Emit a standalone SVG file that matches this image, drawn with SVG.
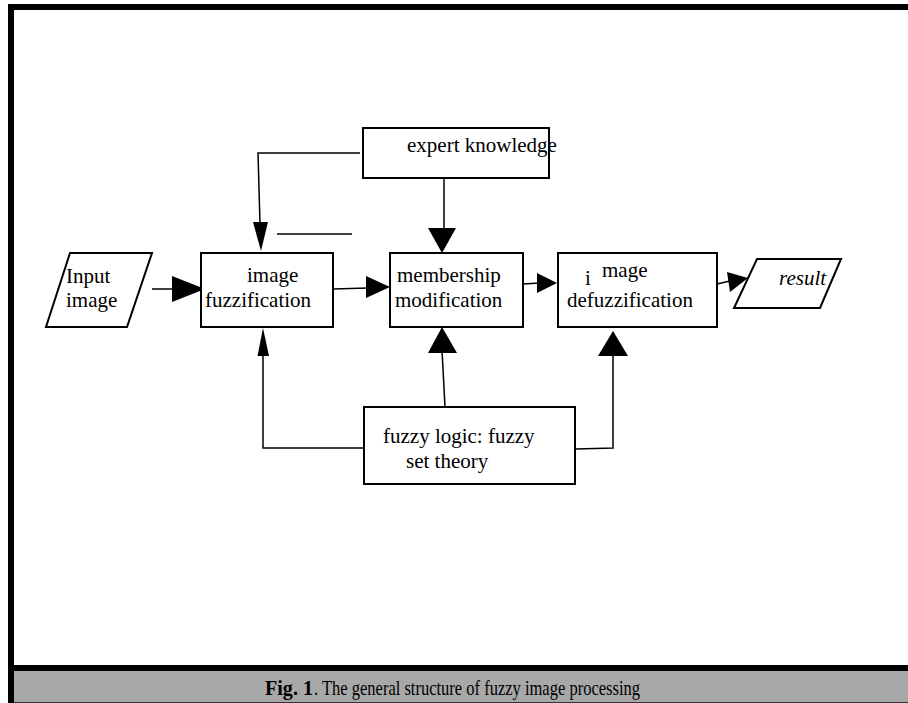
<svg xmlns="http://www.w3.org/2000/svg" width="908" height="703" viewBox="0 0 908 703">
  <style>
    .box { fill: #fff; stroke: #000; stroke-width: 2; }
    .ln { fill: none; stroke: #000; stroke-width: 1.5; }
    .head { fill: #000; stroke: none; }
    .t { font-family: "Liberation Serif", "Times New Roman", serif; font-size: 21px; fill: #000; }
    .ti { font-style: italic; }
    .cap { font-family: "Liberation Serif", "Times New Roman", serif; font-size: 22px; fill: #000; }
  </style>

  <!-- page frame -->
  <rect x="0" y="0" width="908" height="703" fill="#fff"/>
  <rect x="8" y="4" width="900" height="6" fill="#000"/>
  <rect x="8" y="4" width="6" height="699" fill="#000"/>
  <rect x="14" y="665" width="894" height="6" fill="#000"/>
  <rect x="14" y="671" width="894" height="31" fill="#a8a8a8"/>
  <line x1="14" y1="702.5" x2="908" y2="702.5" stroke="#333" stroke-width="1"/>

  <!-- caption -->
  <text class="cap" x="265" y="695" font-weight="bold" textLength="48" lengthAdjust="spacingAndGlyphs">Fig. 1</text>
  <text class="cap" x="314" y="695" textLength="326" lengthAdjust="spacingAndGlyphs">. The general structure of fuzzy image processing</text>

  <!-- connectors -->
  <g id="connectors">
    <!-- input -> fuzzification -->
    <line class="ln" x1="152" y1="289" x2="175" y2="289"/>
    <polygon class="head" points="172,276 205,289 172,302"/>
    <!-- fuzzification -> membership -->
    <line class="ln" x1="333" y1="289" x2="368" y2="288"/>
    <polygon class="head" points="366,276 390,287 366,298"/>
    <!-- membership -> defuzzification -->
    <line class="ln" x1="523" y1="284" x2="540" y2="283"/>
    <polygon class="head" points="537,273 557,283 537,293"/>
    <!-- defuzzification -> result -->
    <line class="ln" x1="717" y1="284" x2="730" y2="281"/>
    <polygon class="head" points="727,272 748,278 730,292"/>

    <!-- expert knowledge -> fuzzification -->
    <polyline class="ln" points="360,153 258,153 260,224"/>
    <polygon class="head" points="253,222 268,222 261,251"/>
    <line class="ln" x1="277" y1="234" x2="352" y2="234"/>
    <!-- expert knowledge -> membership -->
    <line class="ln" x1="444" y1="178" x2="444" y2="230"/>
    <polygon class="head" points="428,228 456,228 442,253"/>

    <!-- fuzzy logic -> fuzzification -->
    <polyline class="ln" points="366,448 263,448 263,354"/>
    <polygon class="head" points="257.5,356 269,356 263,328"/>
    <!-- fuzzy logic -> membership -->
    <line class="ln" x1="445" y1="407" x2="442" y2="350"/>
    <polygon class="head" points="428,353 457,353 442,327"/>
    <!-- fuzzy logic -> defuzzification -->
    <polyline class="ln" points="576,449 613,448 613,354"/>
    <polygon class="head" points="598,356 628,356 613,331"/>
  </g>

  <!-- nodes -->
  <g id="input-image">
    <polygon class="box" points="70,253 152,253 127,327 46,327"/>
    <text class="t" x="66" y="283">Input</text>
    <text class="t" x="66" y="307">image</text>
  </g>

  <g id="image-fuzzification">
    <rect class="box" x="201" y="253" width="132" height="74"/>
    <text class="t" x="247" y="282">image</text>
    <text class="t" x="205" y="307">fuzzification</text>
  </g>

  <g id="expert-knowledge">
    <rect class="box" x="363" y="128" width="186" height="50" stroke-width="1.5"/>
    <text class="t" x="407" y="152">expert knowledge</text>
  </g>

  <g id="membership-modification">
    <rect class="box" x="390" y="253" width="133" height="74"/>
    <text class="t" x="397" y="282">membership</text>
    <text class="t" x="395" y="307">modification</text>
  </g>

  <g id="image-defuzzification">
    <rect class="box" x="558" y="253" width="159" height="74"/>
    <text class="t" x="585" y="285" font-size="30">i</text>
    <text class="t" x="602" y="277" font-size="19">mage</text>
    <text class="t" x="567" y="307">defuzzification</text>
  </g>

  <g id="result">
    <polygon class="box" points="757,259 841,259 820,308 734,308"/>
    <text class="t ti" x="779" y="285">result</text>
  </g>

  <g id="fuzzy-logic">
    <rect class="box" x="364" y="407" width="211" height="77"/>
    <text class="t" x="383" y="443">fuzzy logic: fuzzy</text>
    <text class="t" x="406" y="468">set theory</text>
  </g>
</svg>
